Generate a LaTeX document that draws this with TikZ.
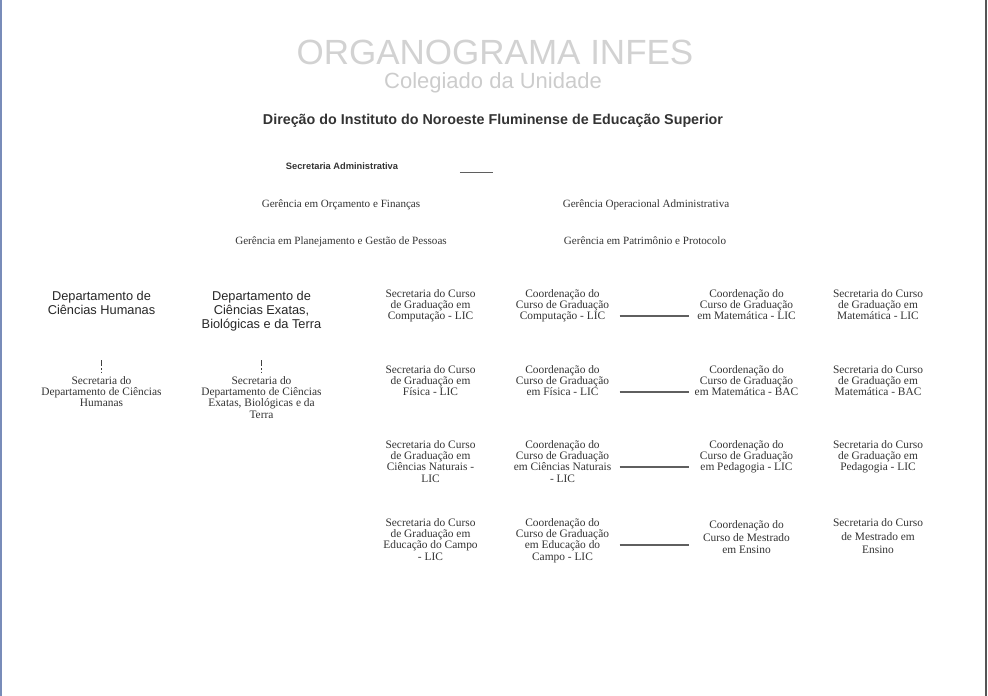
\documentclass[tikz,border=0pt]{standalone}
\usepackage{fontspec}
\setmainfont{Liberation Serif}
\newfontfamily\arialf{Liberation Sans}
\definecolor{leftedge}{RGB}{120,140,185}
\definecolor{rightedge}{RGB}{85,85,85}
\definecolor{linkgray}{RGB}{95,95,95}
\tikzset{
 ttl/.style={font=\arialf\fontsize{35}{40}\selectfont, text=gray!35, inner sep=0},
 subttl/.style={font=\arialf\fontsize{22}{26}\selectfont, text=gray!40, inner sep=0},
 dirtxt/.style={font=\arialf\bfseries\fontsize{14.3}{16}\selectfont, text=black!80, inner sep=0},
 sadm/.style={font=\arialf\bfseries\fontsize{9.3}{11}\selectfont, text=black!80, inner sep=0},
 ger/.style={font=\fontsize{11.1}{12}\selectfont, text=black!80, inner sep=0, anchor=base},
 depttxt/.style={font=\arialf\fontsize{12.8}{14}\selectfont, align=center, text=black!85, inner sep=0, anchor=north},
 smalltxt/.style={font=\fontsize{11.4}{11.2}\selectfont, align=center, text=black!80, inner sep=0, anchor=north},
 cbox/.style={minimum width=114pt, minimum height=64pt, inner sep=0},
 dbox/.style={minimum width=137pt, minimum height=76pt, inner sep=0},
 sbox/.style={minimum width=137pt, minimum height=56pt, inner sep=0},
 emptybox/.style={minimum width=33pt, minimum height=22pt, inner sep=0},
 link/.style={draw=linkgray, line width=1.8pt},
 vlink/.style={draw=black!75, line width=0.9pt, dash pattern=on 6pt off 2pt on 1.5pt off 2pt},
}
\begin{document}
\begin{tikzpicture}[x=1pt,y=-1pt]
\useasboundingbox (0,0) rectangle (988,696);
% frame edges
\draw[line width=2pt, draw=leftedge] (1,0) -- (1,696);
\draw[line width=2.5pt, draw=rightedge] (986,0) -- (986,696);

% header
\node[ttl] (title) at (495,52) {ORGANOGRAMA INFES};
\node[subttl] (sub) at (493,83) {Colegiado da Unidade};
\node[dirtxt] (dir) at (493,121) {Direção do Instituto do Noroeste Fluminense de Educação Superior};
\node[sadm] (secadm) at (342,166) {Secretaria Administrativa};
\node[emptybox] (box0) at (476.5,161) {};
\draw[link, line width=1.4pt] (box0.south west) -- (box0.south east);

% gerencias
\node[ger] (g1) at (341,207.5) {Gerência em Orçamento e Finanças};
\node[ger] (g2) at (646,207.5) {Gerência Operacional Administrativa};
\node[ger] (g3) at (341,244.5) {Gerência em Planejamento e Gestão de Pessoas};
\node[ger] (g4) at (645,244.5) {Gerência em Patrimônio e Protocolo};

% departamentos
\node[dbox] (d1) at (101.5,323) {};
\node[depttxt] (d1t) at ([yshift=-6.5pt]d1.north) {Departamento de\\Ciências Humanas};
\node[dbox] (d2) at (261.5,323) {};
\node[depttxt] (d2t) at ([yshift=-6.5pt]d2.north) {Departamento de\\Ciências Exatas,\\Biológicas e da Terra};
\node[sbox] (s1) at (101.5,400) {};
\node[smalltxt] (s1t) at ([yshift=-4.5pt]s1.north) {Secretaria do\\Departamento de Ciências\\Humanas};
\node[sbox] (s2) at (261.5,400) {};
\node[smalltxt] (s2t) at ([yshift=-4.5pt]s2.north) {Secretaria do\\Departamento de Ciências\\Exatas, Biológicas e da\\Terra};
\draw[vlink] ([yshift=1pt]d1.south) -- (s1.north);
\draw[vlink] ([yshift=1pt]d2.south) -- (s2.north);

% row 1
\node[cbox] (a1) at (430.5,316) {};
\node[cbox] (b1) at (562.5,316) {};
\node[cbox] (c1) at (746.5,316) {};
\node[cbox] (e1) at (878,316) {};
\node[smalltxt] (a1t) at ([yshift=-5.5pt]a1.north) {Secretaria do Curso\\de Graduação em\\Computação - LIC};
\node[smalltxt] (b1t) at ([yshift=-5.5pt]b1.north) {Coordenação do\\Curso de Graduação\\Computação - LIC};
\node[smalltxt] (c1t) at ([yshift=-5.5pt]c1.north) {Coordenação do\\Curso de Graduação\\em Matemática - LIC};
\node[smalltxt] (e1t) at ([yshift=-5.5pt]e1.north) {Secretaria do Curso\\de Graduação em\\Matemática - LIC};
\draw[link] (b1.east) -- (c1.west);

% row 2
\node[cbox] (a2) at (430.5,392) {};
\node[cbox] (b2) at (562.5,392) {};
\node[cbox] (c2) at (746.5,392) {};
\node[cbox] (e2) at (878,392) {};
\node[smalltxt] (a2t) at ([yshift=-5.5pt]a2.north) {Secretaria do Curso\\de Graduação em\\Física - LIC};
\node[smalltxt] (b2t) at ([yshift=-5.5pt]b2.north) {Coordenação do\\Curso de Graduação\\em Física - LIC};
\node[smalltxt] (c2t) at ([yshift=-5.5pt]c2.north) {Coordenação do\\Curso de Graduação\\em Matemática - BAC};
\node[smalltxt] (e2t) at ([yshift=-5.5pt]e2.north) {Secretaria do Curso\\de Graduação em\\Matemática - BAC};
\draw[link] (b2.east) -- (c2.west);

% row 3
\node[cbox] (a3) at (430.5,467) {};
\node[cbox] (b3) at (562.5,467) {};
\node[cbox] (c3) at (746.5,467) {};
\node[cbox] (e3) at (878,467) {};
\node[smalltxt] (a3t) at ([yshift=-5.5pt]a3.north) {Secretaria do Curso\\de Graduação em\\Ciências Naturais -\\LIC};
\node[smalltxt] (b3t) at ([yshift=-5.5pt]b3.north) {Coordenação do\\Curso de Graduação\\em Ciências Naturais\\- LIC};
\node[smalltxt] (c3t) at ([yshift=-5.5pt]c3.north) {Coordenação do\\Curso de Graduação\\em Pedagogia - LIC};
\node[smalltxt] (e3t) at ([yshift=-5.5pt]e3.north) {Secretaria do Curso\\de Graduação em\\Pedagogia - LIC};
\draw[link] (b3.east) -- (c3.west);

% row 4
\node[cbox] (a4) at (430.5,545) {};
\node[cbox] (b4) at (562.5,545) {};
\node[cbox] (c4) at (746.5,545) {};
\node[cbox] (e4) at (878,545) {};
\node[smalltxt] (a4t) at ([yshift=-5.5pt]a4.north) {Secretaria do Curso\\de Graduação em\\Educação do Campo\\- LIC};
\node[smalltxt] (b4t) at ([yshift=-5.5pt]b4.north) {Coordenação do\\Curso de Graduação\\em Educação do\\Campo - LIC};
\node[smalltxt, font=\fontsize{11.4}{12.6}\selectfont] (c4t) at ([yshift=-7.5pt]c4.north) {Coordenação do\\Curso de Mestrado\\em Ensino};
\node[smalltxt, font=\fontsize{11.4}{13.3}\selectfont] (e4t) at ([yshift=-6pt]e4.north) {Secretaria do Curso\\de Mestrado em\\Ensino};
\draw[link] (b4.east) -- (c4.west);
\end{tikzpicture}
\end{document}
